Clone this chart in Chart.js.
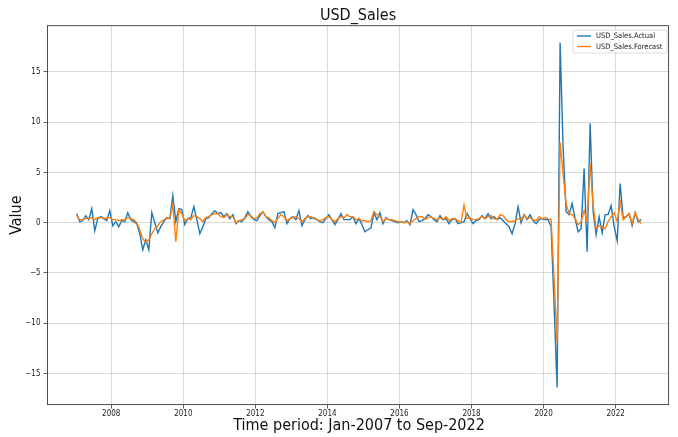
<!DOCTYPE html>
<html>
<head>
<meta charset="utf-8">
<script src="https://cdn.jsdelivr.net/npm/chart.js@4.4.1/dist/chart.umd.min.js"></script>
<style>
  html, body { margin: 0; padding: 0; background: #fff; }
  canvas { display: block; }
</style>
</head>
<body>
<canvas id="sales" width="678" height="437"></canvas>
<script>
// monthly change, Jan 2007 .. Sep 2022
const startYear = 2007;
const actual = [
    0.9, 0.1, 0.2, 0.7, 0.3, 1.4, -0.8, 0.4, 0.6, 0.4, 0.2, 1.2,
    -0.3, 0.1, -0.4, 0.2, 0.1, 1.0, 0.3, 0.1, -0.1, -1.1, -2.7, -1.7,
    -2.7, 1.0, 0.0, -1.0, -0.4, 0.1, 0.5, 0.4, 2.7, 0.1, 1.4, 1.3,
    -0.2, 0.4, 0.5, 1.6, 0.3, -1.1, -0.4, 0.4, 0.5, 0.9, 1.2, 0.9,
    1.0, 0.6, 0.9, 0.4, 0.8, -0.1, 0.2, 0.1, 0.5, 1.1, 0.6, 0.3,
    0.2, 0.7, 1.1, 0.6, 0.3, 0.1, -0.5, 0.9, 1.0, 1.1, -0.1, 0.4,
    0.6, 0.3, 1.2, -0.3, 0.3, 0.7, 0.4, 0.5, 0.3, 0.1, 0.0, 0.4,
    0.8, 0.3, -0.2, 0.3, 0.9, 0.3, 0.3, 0.3, 0.6, -0.1, 0.4, -0.2,
    -0.9, -0.7, -0.5, 1.0, 0.3, 1.0, -0.1, 0.5, 0.3, 0.2, 0.1, 0.0,
    0.1, 0.0, 0.2, -0.2, 1.3, 0.8, 0.1, 0.2, 0.4, 0.8, 0.6, 0.3,
    0.1, 0.7, 0.3, 0.4, -0.1, 0.3, 0.4, -0.1, 0.0, 0.1, 0.9, 0.4,
    -0.1, 0.2, 0.3, 0.7, 0.4, 0.9, 0.4, 0.6, 0.3, 0.5, 0.2, -0.1,
    -0.4, -1.1, -0.1, 1.6, 0.0, 0.8, 0.3, 0.8, 0.2, -0.1, 0.3, 0.4,
    0.3, 0.3, -0.4, -8.2, -16.4, 17.9, 7.5, 1.1, 0.8, 1.9, 0.4, -0.9,
    -0.6, 5.4, -2.9, 9.9, 1.1, -1.2, 0.6, -1.0, 0.8, 0.8, 1.7, -0.4,
    -1.8, 3.9, 0.5, 0.6, 0.9, -0.3, 1.0, 0.1, 0.3
];
const forecast = [
    0.7, 0.3, 0.3, 0.4, 0.4, 0.5, 0.3, 0.5, 0.5, 0.4, 0.5, 0.5,
    0.3, 0.3, 0.2, 0.3, 0.3, 0.5, 0.4, 0.3, 0.0, -0.7, -1.6, -2.0,
    -1.7, -1.1, -0.6, -0.3, 0.1, 0.3, 0.4, 0.5, 1.8, -1.9, 1.3, 0.9,
    0.2, 0.4, 0.3, 0.7, 0.6, 0.4, 0.1, 0.5, 0.6, 0.8, 0.9, 0.9,
    0.6, 0.5, 0.8, 0.6, 0.6, 0.0, 0.2, 0.3, 0.4, 0.8, 0.7, 0.4,
    0.5, 0.9, 1.1, 0.6, 0.5, 0.2, 0.0, 0.4, 0.8, 0.6, 0.2, 0.4,
    0.5, 0.6, 0.4, 0.1, 0.4, 0.6, 0.6, 0.4, 0.3, 0.2, 0.3, 0.5,
    0.6, 0.3, 0.1, 0.4, 0.6, 0.5, 0.8, 0.6, 0.6, 0.3, 0.4, 0.2,
    0.2, 0.1, 0.2, 1.1, 0.8, 0.6, 0.1, 0.4, 0.3, 0.3, 0.2, 0.1,
    0.1, 0.0, 0.1, -0.1, 0.2, 0.4, 0.6, 0.6, 0.3, 0.5, 0.6, 0.4,
    0.3, 0.5, 0.3, 0.6, 0.2, 0.4, 0.4, 0.2, 0.0, 1.75, 0.4, 0.5,
    0.3, 0.3, 0.4, 0.6, 0.4, 0.6, 0.7, 0.4, 0.3, 0.8, 0.7, 0.3,
    0.1, 0.1, 0.2, 0.4, 0.3, 0.8, 0.4, 0.5, 0.3, 0.2, 0.6, 0.4,
    0.5, 0.4, 0.3, -5.5, -11.9, 8.0, 4.8, 1.9, 0.9, 0.8, 0.4, -0.2,
    0.1, 1.2, 0.1, 5.9, 1.7, -0.6, -0.3, -0.4, -0.6, 0.1, 0.6, 1.0,
    0.1, 2.1, 0.3, 0.6, 0.9, -0.1, 1.0, 0.3, -0.1
];
const xTicks = [2008, 2010, 2012, 2014, 2016, 2018, 2020, 2022];
const yTicks = [-15, -10, -5, 0, 5, 10, 15];

const FONT = "'DejaVu Sans Condensed', 'DejaVu Sans', sans-serif";

// place each month in the middle of its slot on a fractional-year axis
const toPoints = arr => arr.map((v, i) => ({ x: startYear + (i + 0.5) / 12, y: v }));

const frameAndText = {
    id: 'frameAndText',
    afterDraw(chart) {
        const { ctx, chartArea: a } = chart;
        ctx.save();
        // box around the plot
        ctx.strokeStyle = '#3a3a3a';
        ctx.lineWidth = 0.9;
        ctx.strokeRect(a.left, a.top, a.right - a.left, a.bottom - a.top);

        ctx.fillStyle = '#111';
        ctx.textAlign = 'center';
        ctx.textBaseline = 'middle';
        ctx.font = '16px ' + FONT;
        ctx.fillText('USD_Sales', (a.left + a.right) / 2, 16);

        ctx.font = '16px ' + FONT;
        ctx.fillText('Time period: Jan-2007 to Sep-2022', (a.left + a.right) / 2 + 1, 426);

        ctx.save();
        ctx.translate(17, (a.top + a.bottom) / 2);
        ctx.rotate(-Math.PI / 2);
        ctx.fillText('Value', 0, 0);
        ctx.restore();

        // legend, upper right
        const lx = 573, ly = 30, lw = 94, lh = 23;
        ctx.fillStyle = 'rgba(255,255,255,0.85)';
        ctx.strokeStyle = '#d4d4d4';
        ctx.lineWidth = 0.8;
        ctx.beginPath();
        ctx.roundRect(lx, ly, lw, lh, 2);
        ctx.fill();
        ctx.stroke();
        ctx.font = '7.5px ' + FONT;
        ctx.textAlign = 'left';
        chart.data.datasets.forEach((ds, i) => {
            const y = ly + 6 + i * 10.5;
            ctx.strokeStyle = ds.borderColor;
            ctx.lineWidth = 1.4;
            ctx.beginPath();
            ctx.moveTo(lx + 4, y);
            ctx.lineTo(lx + 18, y);
            ctx.stroke();
            ctx.fillStyle = '#222';
            ctx.fillText(ds.label, lx + 23, y + 0.5);
        });
        ctx.restore();
    }
};

new Chart(document.getElementById('sales'), {
    type: 'line',
    data: {
        datasets: [
            {
                label: 'USD_Sales.Actual',
                data: toPoints(actual),
                borderColor: '#1f77b4',
                borderWidth: 1.4,
                pointRadius: 0,
                order: 1
            },
            {
                label: 'USD_Sales.Forecast',
                data: toPoints(forecast),
                borderColor: '#ff7f0e',
                borderWidth: 1.4,
                pointRadius: 0,
                order: 0
            }
        ]
    },
    options: {
        responsive: false,
        animation: false,
        devicePixelRatio: 1,
        layout: { padding: { top: 25.7, right: 9.4, left: 0, bottom: 0 } },
        plugins: {
            legend: { display: false },
            title: { display: false },
            tooltip: { enabled: false }
        },
        scales: {
            x: {
                type: 'linear',
                min: 2006.23,
                max: 2023.47,
                afterBuildTicks: s => { s.ticks = xTicks.map(v => ({ value: v })); },
                afterFit: s => { s.height = 32.4; },
                ticks: {
                    font: { family: FONT, size: 8 },
                    color: '#222',
                    padding: 1,
                    maxRotation: 0,
                    autoSkip: false,
                    callback: v => String(v)
                },
                grid: { color: '#cfcfcf', lineWidth: 0.8, tickLength: 4, tickColor: '#3a3a3a' },
                border: { display: false }
            },
            y: {
                min: -18.1,
                max: 19.6,
                afterBuildTicks: s => { s.ticks = yTicks.map(v => ({ value: v })); },
                afterFit: s => { s.width = 47.5; },
                ticks: {
                    font: { family: FONT, size: 8 },
                    color: '#222',
                    padding: 3,
                    callback: v => String(v).replace('-', '\u2212')
                },
                grid: { color: '#cfcfcf', lineWidth: 0.8, tickLength: 4, tickColor: '#3a3a3a' },
                border: { display: false }
            }
        }
    },
    plugins: [frameAndText]
});
</script>
</body>
</html>
